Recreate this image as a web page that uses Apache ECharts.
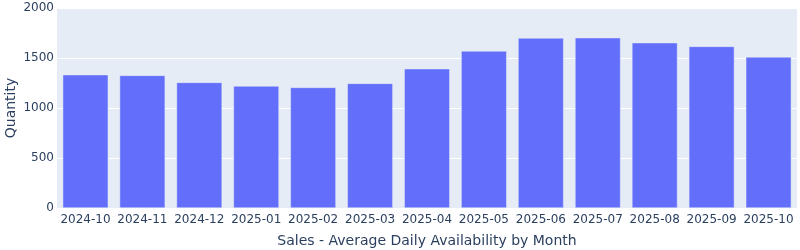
<!DOCTYPE html>
<html>
<head>
<meta charset="utf-8">
<script src="https://cdn.jsdelivr.net/npm/echarts@6/dist/echarts.min.js"></script>
<style>html,body{margin:0;padding:0;background:#fff}#c{width:800px;height:250px}</style>
</head>
<body>
<div id="c"></div>
<script>
const categories = ["2024-10","2024-11","2024-12","2025-01","2025-02","2025-03","2025-04","2025-05","2025-06","2025-07","2025-08","2025-09","2025-10"];
const quantity = [1333,1326,1256,1220,1206,1246,1393,1570,1700,1703,1653,1616,1510];
const yTicks = [0,500,1000,1500,2000];

const chart = echarts.init(document.getElementById('c'), null, {renderer:'canvas'});
const font = '"DejaVu Sans", sans-serif';
chart.setOption({
  animation:false,
  textStyle:{fontFamily:font},
  grid:{left:57,right:3,top:8,bottom:42,show:true,backgroundColor:'#E5ECF6',borderWidth:0,containLabel:false,outerBoundsMode:'none'},
  xAxis:{
    type:'category',data:categories,
    axisLine:{show:false},axisTick:{show:false},
    axisLabel:{color:'#2a3f5f',fontSize:12,fontFamily:font,margin:6,interval:0},
    name:'Sales - Average Daily Availability by Month',nameLocation:'middle',nameGap:26,nameMoveOverlap:false,
    nameTextStyle:{color:'#2a3f5f',fontSize:14,fontFamily:font,verticalAlign:'top'}
  },
  yAxis:{
    type:'value',min:yTicks[0],max:yTicks[yTicks.length-1],interval:yTicks[1]-yTicks[0],
    axisLine:{show:false},axisTick:{show:false},
    splitLine:{lineStyle:{color:'#ffffff',width:1}},
    axisLabel:{color:'#2a3f5f',fontSize:12,fontFamily:font,margin:3,formatter:v=>String(v)},
    name:'Quantity',nameLocation:'middle',nameGap:46,nameRotate:90,nameMoveOverlap:false,
    nameTextStyle:{color:'#2a3f5f',fontSize:14,fontFamily:font,verticalAlign:'middle',align:'center'}
  },
  series:[{
    type:'bar',data:quantity,barCategoryGap:'20%',
    itemStyle:{color:'#636EFA',borderColor:'#E5ECF6',borderWidth:0.5}
  }]
});
</script>
</body>
</html>
